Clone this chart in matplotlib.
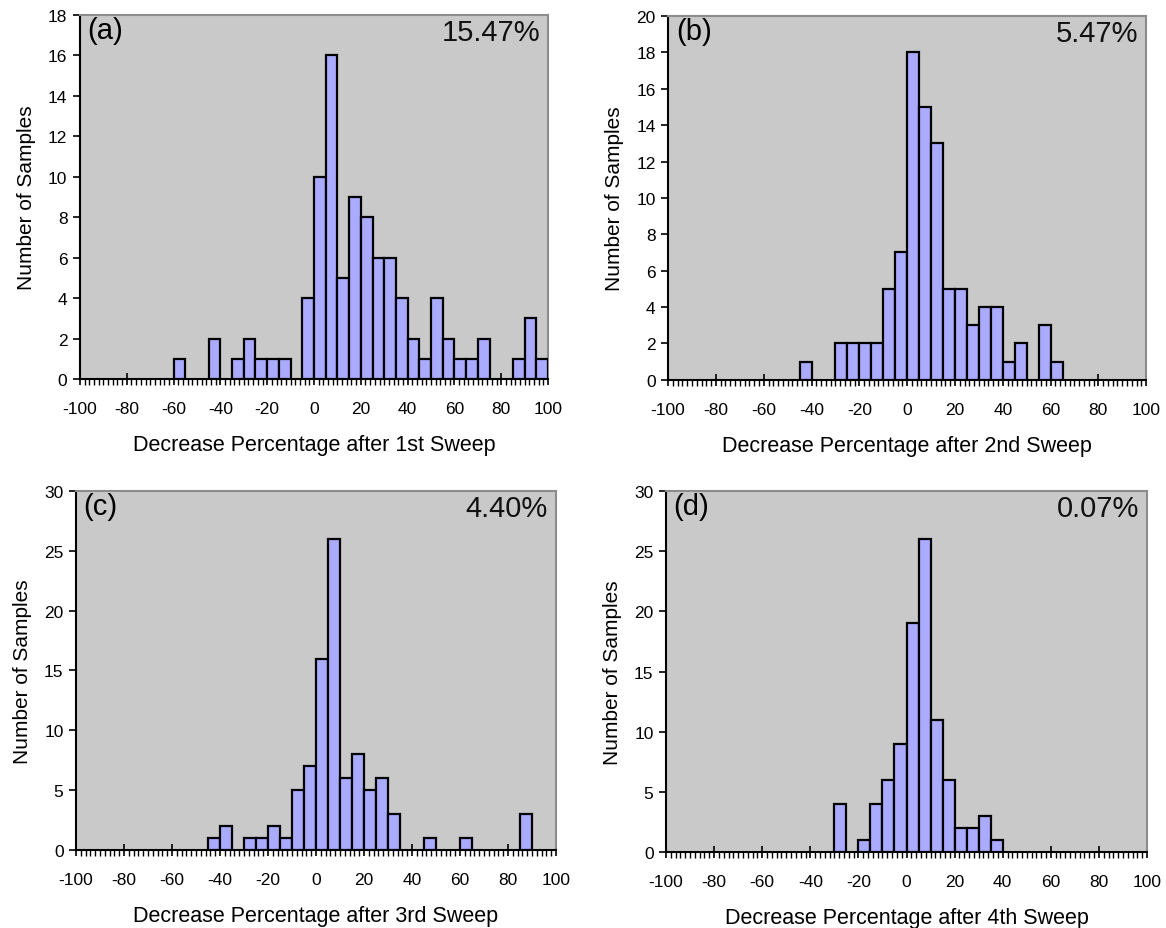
"""Four histograms of decrease percentage after each sweep (2x2 panels)."""
import matplotlib
matplotlib.use('Agg')
import matplotlib.pyplot as plt
from matplotlib.ticker import MultipleLocator

plt.rcParams['font.family'] = ['Liberation Sans', 'DejaVu Sans']
plt.rcParams['axes.unicode_minus'] = False

# bin left edges (width 5) and counts
BINS_A = [-60, -45, -35, -30, -25, -20, -15, -5, 0, 5, 10, 15, 20, 25, 30, 35,
          40, 45, 50, 55, 60, 65, 70, 85, 90, 95]
COUNTS_A = [1, 2, 1, 2, 1, 1, 1, 4, 10, 16, 5, 9, 8, 6, 6, 4,
            2, 1, 4, 2, 1, 1, 2, 1, 3, 1]

BINS_B = [-45, -30, -25, -20, -15, -10, -5, 0, 5, 10, 15, 20, 25, 30, 35,
          40, 45, 55, 60]
COUNTS_B = [1, 2, 2, 2, 2, 5, 7, 18, 15, 13, 5, 5, 3, 4, 4,
            1, 2, 3, 1]

BINS_C = [-45, -40, -30, -25, -20, -15, -10, -5, 0, 5, 10, 15, 20, 25, 30,
          45, 60, 85]
COUNTS_C = [1, 2, 1, 1, 2, 1, 5, 7, 16, 26, 6, 8, 5, 6, 3,
            1, 1, 3]

BINS_D = [-30, -20, -15, -10, -5, 0, 5, 10, 15, 20, 25, 30, 35]
COUNTS_D = [4, 1, 4, 6, 9, 19, 26, 11, 6, 2, 2, 3, 1]

PANELS = [
    # bins, counts, tag, mean, xlabel, ymax, ystep, rect
    (BINS_A, COUNTS_A, '(a)', '15.47%', 'Decrease Percentage after 1st Sweep', 18, 2,
     [0.0686, 0.591, 0.4014, 0.3918]),
    (BINS_B, COUNTS_B, '(b)', '5.47%', 'Decrease Percentage after 2nd Sweep', 20, 2,
     [0.573, 0.590, 0.410, 0.3918]),
    (BINS_C, COUNTS_C, '(c)', '4.40%', 'Decrease Percentage after 3rd Sweep', 30, 5,
     [0.0652, 0.084, 0.4117, 0.3864]),
    (BINS_D, COUNTS_D, '(d)', '0.07%', 'Decrease Percentage after 4th Sweep', 30, 5,
     [0.5712, 0.0818, 0.4125, 0.3886]),
]

fig = plt.figure(figsize=(11.66, 9.29), dpi=100)

for bins, counts, tag, mean, xlabel, ymax, ystep, rect in PANELS:
    ax = fig.add_axes(rect)
    ax.set_facecolor('#c9c9c9')
    ax.bar(bins, counts, width=5, align='edge', color='#aaaaff',
           edgecolor='black', linewidth=1.6, zorder=3)
    ax.set_xlim(-100, 100)
    ax.set_ylim(0, ymax)
    ax.xaxis.set_major_locator(MultipleLocator(20))
    ax.xaxis.set_minor_locator(MultipleLocator(2))
    ax.yaxis.set_major_locator(MultipleLocator(ystep))
    ax.tick_params(axis='x', which='major', direction='inout', length=8, width=1.2,
                   labelsize=12.5, pad=12)
    ax.tick_params(axis='x', which='minor', direction='out', length=4, width=1)
    ax.tick_params(axis='y', which='major', direction='out', length=5, width=1.2,
                   labelsize=12.5, pad=4)
    for side in ('left', 'bottom'):
        ax.spines[side].set_color('black')
        ax.spines[side].set_linewidth(1.5)
    for side in ('top', 'right'):
        ax.spines[side].set_color('#8c8c8c')
        ax.spines[side].set_linewidth(1.5)
    ax.set_xlabel(xlabel, fontsize=15.5, labelpad=13)
    ax.set_ylabel('Number of Samples', fontsize=15, labelpad=9)
    ax.text(0.016, 0.958, tag, transform=ax.transAxes, fontsize=21,
            ha='left', va='center', color='black')
    ax.text(0.983, 0.952, mean, transform=ax.transAxes, fontsize=21,
            ha='right', va='center', color='#111111')

plt.savefig('out.png', dpi=100, facecolor='white')
